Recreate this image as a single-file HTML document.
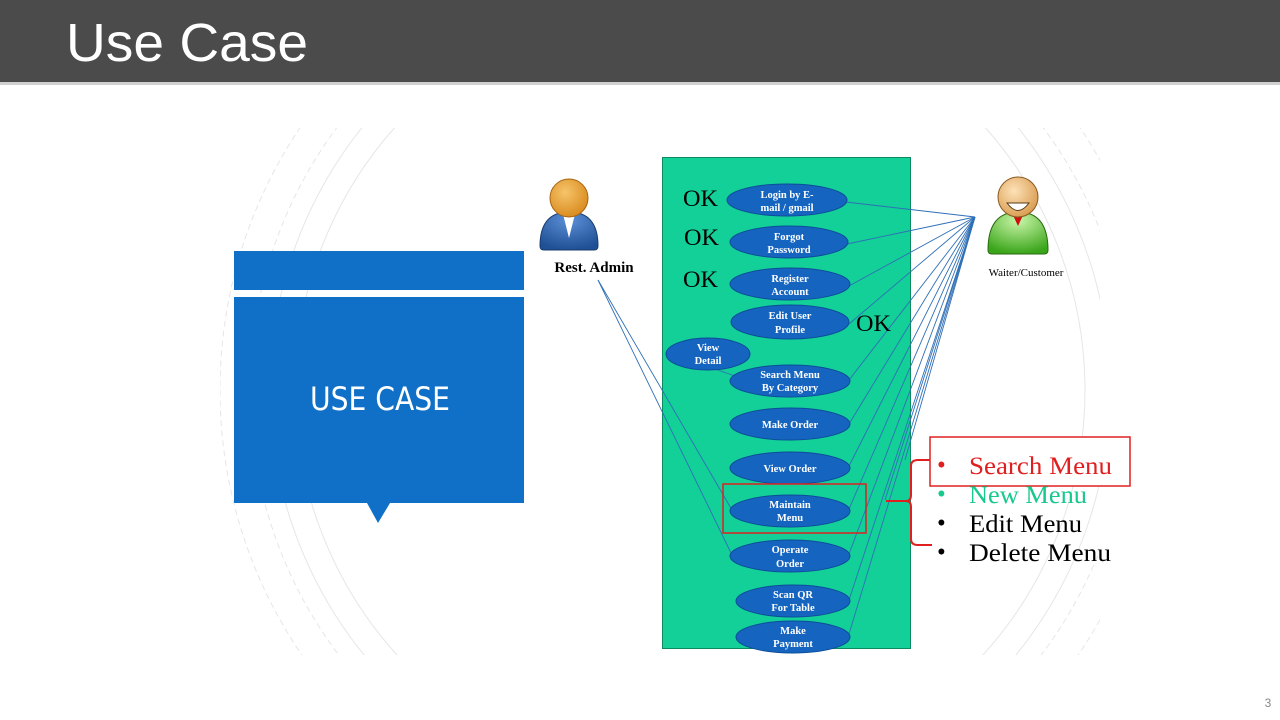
<!DOCTYPE html>
<html><head><meta charset="utf-8"><style>
html,body{margin:0;padding:0;background:#fff;width:1280px;height:720px;overflow:hidden;}
svg{display:block;}
</style></head><body>
<svg width="1280" height="720" viewBox="0 0 1280 720" xmlns="http://www.w3.org/2000/svg">
<defs>
<clipPath id="bg"><rect x="220" y="128" width="880" height="527"/></clipPath>
<radialGradient id="head1" cx="40%" cy="35%" r="70%"><stop offset="0" stop-color="#f6c46a"/><stop offset="1" stop-color="#d8891c"/></radialGradient>
<radialGradient id="body1" cx="50%" cy="20%" r="80%"><stop offset="0" stop-color="#5b8fd6"/><stop offset="1" stop-color="#1f4f95"/></radialGradient>
<radialGradient id="body2" cx="50%" cy="20%" r="80%"><stop offset="0" stop-color="#c9f5a8"/><stop offset="1" stop-color="#3aa51a"/></radialGradient>
<radialGradient id="head2" cx="40%" cy="35%" r="70%"><stop offset="0" stop-color="#fde2b8"/><stop offset="1" stop-color="#d89a4e"/></radialGradient>
</defs>
<rect x="0" y="0" width="1280" height="82" fill="#4b4b4b"/>
<rect x="0" y="82" width="1280" height="3" fill="#d0d0d0"/>
<text x="66" y="61" font-family="Liberation Sans, sans-serif" font-size="54" fill="#fff" textLength="242" lengthAdjust="spacingAndGlyphs">Use Case</text>
<g clip-path="url(#bg)" fill="none" stroke="#e6e6e6" stroke-width="1">
<circle cx="690" cy="390" r="420"/>
<circle cx="690" cy="390" r="440" stroke-dasharray="6,4"/>
<circle cx="690" cy="390" r="395"/>
<circle cx="690" cy="390" r="470" stroke-dasharray="6,4"/>
</g>
<rect x="234" y="251" width="290" height="39" fill="#1070c8"/>
<rect x="234" y="297" width="290" height="206" fill="#1070c8"/>
<polygon points="367,503 390,503 378,523" fill="#1070c8"/>
<text x="310" y="410" font-family="DejaVu Sans, Liberation Sans, sans-serif" font-size="32" fill="#fff" textLength="140" lengthAdjust="spacingAndGlyphs">USE CASE</text>
<rect x="662.5" y="157.5" width="248" height="491" fill="#13cf98" stroke="#0c8a60" stroke-width="1"/>
<g stroke="#2f6fb6" stroke-width="0.9" fill="none">
<line x1="975" y1="217" x2="846" y2="202"/>
<line x1="975" y1="217" x2="847" y2="244"/>
<line x1="975" y1="217" x2="849" y2="286"/>
<line x1="975" y1="217" x2="849" y2="324"/>
<line x1="975" y1="217" x2="849" y2="380"/>
<line x1="975" y1="217" x2="849" y2="424"/>
<line x1="975" y1="217" x2="849" y2="466"/>
<line x1="975" y1="217" x2="849" y2="509"/>
<line x1="975" y1="217" x2="849" y2="554"/>
<line x1="975" y1="217" x2="849" y2="600"/>
<line x1="975" y1="217" x2="849" y2="634"/>
<line x1="975" y1="217" x2="885" y2="500"/>
<line x1="975" y1="217" x2="905" y2="460"/>
<line x1="598" y1="280" x2="732" y2="510"/>
<line x1="598" y1="280" x2="732" y2="555"/>
<line x1="712" y1="368" x2="735" y2="376"/>
</g>
<g fill="#1565c0" stroke="#0d4d99" stroke-width="1">
<ellipse cx="787" cy="200" rx="60" ry="16"/>
<ellipse cx="789" cy="242" rx="59" ry="16"/>
<ellipse cx="790" cy="284" rx="60" ry="16"/>
<ellipse cx="790" cy="322" rx="59" ry="17"/>
<ellipse cx="708" cy="354" rx="42" ry="16"/>
<ellipse cx="790" cy="381" rx="60" ry="16"/>
<ellipse cx="790" cy="424" rx="60" ry="16"/>
<ellipse cx="790" cy="468" rx="60" ry="16"/>
<ellipse cx="790" cy="511" rx="60" ry="16"/>
<ellipse cx="790" cy="556" rx="60" ry="16"/>
<ellipse cx="793" cy="601" rx="57" ry="16"/>
<ellipse cx="793" cy="637" rx="57" ry="16"/>
</g>
<g font-family="Liberation Serif, serif" font-size="10.5" font-weight="bold" fill="#fff" text-anchor="middle">
<text x="787" y="198">Login by E-</text><text x="787" y="211">mail / gmail</text>
<text x="789" y="240">Forgot</text><text x="789" y="253">Password</text>
<text x="790" y="282">Register</text><text x="790" y="295">Account</text>
<text x="790" y="319">Edit User</text><text x="790" y="333">Profile</text>
<text x="708" y="351">View</text><text x="708" y="364">Detail</text>
<text x="790" y="378">Search Menu</text><text x="790" y="391">By Category</text>
<text x="790" y="428">Make Order</text>
<text x="790" y="472">View Order</text>
<text x="790" y="508">Maintain</text><text x="790" y="521">Menu</text>
<text x="790" y="553">Operate</text><text x="790" y="567">Order</text>
<text x="793" y="598">Scan QR</text><text x="793" y="611">For Table</text>
<text x="793" y="634">Make</text><text x="793" y="647">Payment</text>
</g>
<g font-family="Liberation Serif, serif" font-size="23" fill="#000">
<text x="683" y="206" textLength="35" lengthAdjust="spacingAndGlyphs">OK</text>
<text x="684" y="245" textLength="35" lengthAdjust="spacingAndGlyphs">OK</text>
<text x="683" y="287" textLength="35" lengthAdjust="spacingAndGlyphs">OK</text>
<text x="856" y="331" textLength="35" lengthAdjust="spacingAndGlyphs">OK</text>
</g>
<rect x="723" y="484" width="143" height="49" fill="none" stroke="#e02020" stroke-width="1.5"/>
<path d="M886,501 L906,501 Q911,501 911,495 L911,466 Q911,460 918,460 L932,460" fill="none" stroke="#e02020" stroke-width="2"/>
<path d="M906,501 Q911,501 911,507 L911,539 Q911,545 918,545 L932,545" fill="none" stroke="#e02020" stroke-width="2"/>
<rect x="930" y="437" width="200" height="49" fill="#fff" stroke="#e02020" stroke-width="1.5"/>
<g font-family="Liberation Serif, serif" font-size="25">
<text x="937" y="473" fill="#e02020">•</text><text x="969" y="474" fill="#e02020" textLength="143" lengthAdjust="spacingAndGlyphs">Search Menu</text>
<text x="937" y="502" fill="#17c98f">•</text><text x="969" y="503" fill="#17c98f" textLength="118" lengthAdjust="spacingAndGlyphs">New Menu</text>
<text x="937" y="531" fill="#000">•</text><text x="969" y="532" fill="#000" textLength="113" lengthAdjust="spacingAndGlyphs">Edit Menu</text>
<text x="937" y="560" fill="#000">•</text><text x="969" y="561" fill="#000" textLength="142" lengthAdjust="spacingAndGlyphs">Delete Menu</text>
</g>
<path d="M540,246 Q540,212 569,212 Q598,212 598,246 Q598,250 594,250 L544,250 Q540,250 540,246Z" fill="url(#body1)" stroke="#1a3d70" stroke-width="1"/>
<polygon points="563,214 575,214 569,238" fill="#fff"/>
<circle cx="569" cy="198" r="19" fill="url(#head1)" stroke="#a86410" stroke-width="1"/>
<text x="594" y="272" text-anchor="middle" font-family="Liberation Serif, serif" font-size="15" font-weight="bold" fill="#000">Rest. Admin</text>
<path d="M988,250 Q988,212 1018,212 Q1048,212 1048,250 Q1048,254 1044,254 L992,254 Q988,254 988,250Z" fill="url(#body2)" stroke="#2a6a10" stroke-width="1"/>
<polygon points="1012,213 1024,213 1018,226" fill="#d01010"/>
<circle cx="1018" cy="197" r="20" fill="url(#head2)" stroke="#8a5a20" stroke-width="1"/>
<path d="M1007,203 Q1018,218 1029,203 Z" fill="#fff" stroke="#5a3a10" stroke-width="1"/>
<text x="1026" y="276" text-anchor="middle" font-family="Liberation Serif, serif" font-size="11" fill="#000">Waiter/Customer</text>
<text x="1268" y="707" text-anchor="middle" font-family="Liberation Sans, sans-serif" font-size="12" fill="#888">3</text>
</svg>
</body></html>
